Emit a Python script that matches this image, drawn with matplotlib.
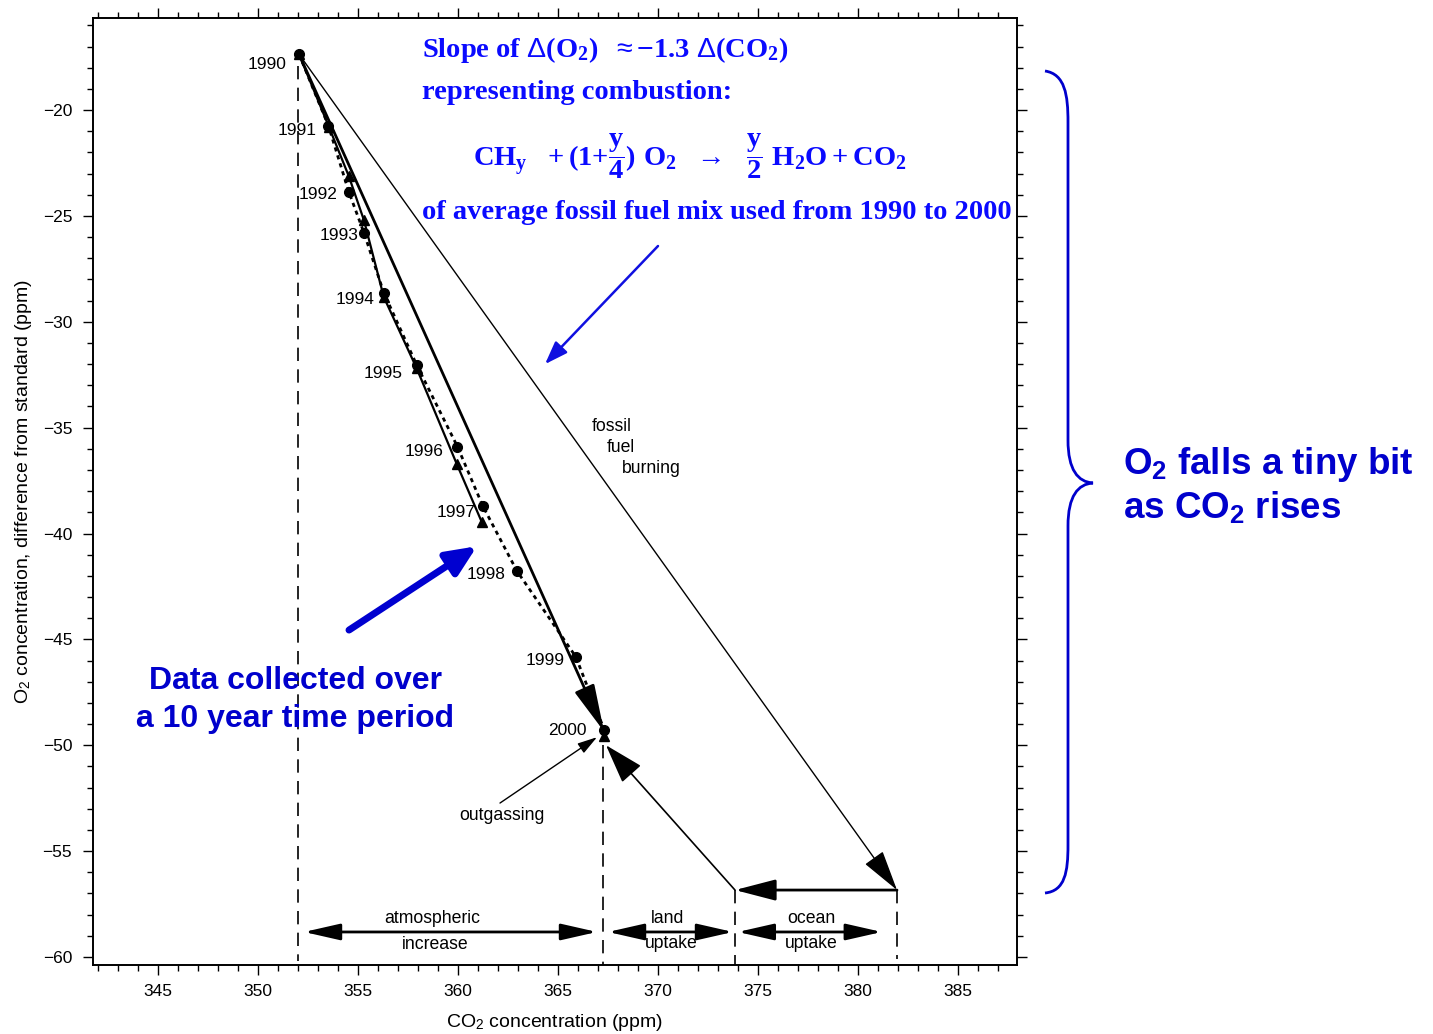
import matplotlib
matplotlib.use("Agg")
import matplotlib.pyplot as plt
import numpy as np
from matplotlib.patches import FancyArrowPatch, PathPatch
from matplotlib.path import Path
from matplotlib.ticker import MultipleLocator

plt.rcParams["font.family"] = ["Liberation Sans", "DejaVu Sans"]
plt.rcParams["mathtext.fontset"] = "custom"
plt.rcParams["mathtext.rm"] = "Liberation Sans"
plt.rcParams["mathtext.sf"] = "Liberation Sans:bold"
plt.rcParams["mathtext.bf"] = "Liberation Serif:bold"
plt.rcParams["mathtext.it"] = "Liberation Serif:bold"

# yearly means, CO2 (ppm) vs O2 (ppm from standard)
years = ["1990", "1991", "1992", "1993", "1994", "1995",
         "1996", "1997", "1998", "1999", "2000"]
co2_circ = [352.05, 353.52, 354.54, 355.30, 356.29, 357.94,
            359.97, 361.24, 362.94, 365.89, 367.32]
o2_circ = [-17.36, -20.74, -23.86, -25.80, -28.63, -32.05,
           -35.89, -38.70, -41.76, -45.82, -49.29]
co2_tri = [352.05, 353.55, 354.54, 355.30, 356.29, 357.93,
           359.94, 361.19, np.nan, np.nan, 367.32]
o2_tri = [-17.36, -20.80, -23.12, -25.21, -28.83, -32.19,
          -36.72, -39.46, np.nan, np.nan, -49.57]

# budget corners
co2_start, o2_start = 352.05, -17.36
co2_end, o2_end = 367.30, -49.35
co2_fossil, o2_fossil = 381.95, -56.84
co2_land = 373.85
o2_bar = -58.82

# label offsets (pixels)
lab_dx = [-13, -12, -11, -6, -9, -14, -14, -7, -11, -11, -18]
lab_dy = [-10, -5, -3, -3, -7, -8, -5, -6, -4, -4, 0]

fig = plt.figure(figsize=(14.33, 10.34), dpi=100)
ax = fig.add_axes([93 / 1433, 69 / 1034, 924 / 1433, 947 / 1034])
ax.set_xlim(341.75, 387.95)
ax.set_ylim(-60.38, -15.65)

ax.plot(co2_circ, o2_circ, ls=(0, (1.5, 1.5)), lw=2, color="black")
ax.plot(co2_circ, o2_circ, "o", ms=7, color="black")
ax.plot(co2_tri, o2_tri, "-^", lw=1.6, ms=7.5, color="black")

for yr, x, y, dx, dy in zip(years, co2_circ, o2_circ, lab_dx, lab_dy):
    ax.annotate(yr, (x, y), xytext=(dx, dy), textcoords="offset pixels",
                ha="right", va="center", fontsize=12.5)


def arrow(p0, p1, style="-|>", lw=1.0, hl=20, hw=7, **kw):
    a = FancyArrowPatch(p0, p1, arrowstyle=f"{style},head_length={hl},head_width={hw}",
                        mutation_scale=1, lw=lw, color="black", shrinkA=0, shrinkB=0,
                        clip_on=False, **kw)
    ax.add_patch(a)


# trend line 1990 -> 2000
arrow((co2_start, o2_start), (co2_end, o2_end), lw=2.0, hl=29, hw=6.5)
# fossil fuel burning
arrow((co2_start, o2_start), (co2_fossil, o2_fossil), lw=1.0, hl=26, hw=7)
# ocean uptake
arrow((co2_fossil, o2_fossil), (co2_land, o2_fossil), lw=2.0, hl=25, hw=6.5)
# land uptake
arrow((co2_land, o2_fossil), (367.40, -50.0), lw=1.2, hl=25, hw=8)
# outgassing
arrow((362.1, -52.73), (366.95, -49.62), lw=1.0, hl=12, hw=3.5)

# bottom double arrows
arrow((352.3, o2_bar), (366.95, o2_bar), style="<|-|>", lw=2.0, hl=22, hw=5)
arrow((367.5, o2_bar), (373.75, o2_bar), style="<|-|>", lw=2.0, hl=22, hw=5)
arrow((373.99, o2_bar), (381.19, o2_bar), style="<|-|>", lw=2.0, hl=22, hw=5)

# dashed guides
dash = dict(color="black", lw=1.2, ls=(0, (8, 5)))
ax.plot([352.0, 352.0], [-17.9, -60.2], **dash)
ax.plot([367.25, 367.25], [-50.0, -60.38], **dash)
ax.plot([co2_land, co2_land], [o2_fossil, -60.38], **dash)
ax.plot([co2_fossil, co2_fossil], [o2_fossil, -60.1], **dash)

txt = dict(fontsize=12.7, ha="center", va="center")
ax.text(358.7, -58.17, "atmospheric", **txt)
ax.text(358.85, -59.40, "increase", **txt)
ax.text(370.5, -58.17, "land", **txt)
ax.text(370.65, -59.35, "uptake", **txt)
ax.text(377.65, -58.17, "ocean", **txt)
ax.text(377.65, -59.35, "uptake", **txt)
ax.text(362.2, -53.30, "outgassing", **txt)
ax.text(367.7, -34.93, "fossil", **txt)
ax.text(368.15, -35.92, "fuel", **txt)
ax.text(369.65, -36.91, "burning", **txt)

# blue annotations
serif = dict(family="Liberation Serif", fontweight="bold", color="#0a0aff",
             fontsize=20.5, va="center")
ax.text(358.2, -17.17, r"Slope of $\Delta$(O$_\mathbf{2}$)  $\approx$$-$1.3 $\Delta$(CO$_\mathbf{2}$)",
        ha="left", **serif)
ax.text(358.2, -19.15, "representing combustion:", ha="left", **serif)
ax.text(371.6, -22.15,
        r"$\mathbf{CH_y\ \ +(1{+}\dfrac{y}{4})\ O_2\ \ \rightarrow\ \ \dfrac{y}{2}\ H_2O+CO_2}$",
        ha="center", **serif)
ax.text(358.2, -24.82, "of average fossil fuel mix used from 1990 to 2000", ha="left", **serif)

ax.add_patch(FancyArrowPatch((370.0, -26.42), (364.35, -32.0),
                             arrowstyle="-|>,head_length=14,head_width=5", mutation_scale=1,
                             lw=1.8, color="#1010e0", shrinkA=0, shrinkB=0))
ax.add_patch(FancyArrowPatch((354.55, -44.56), (360.95, -40.6),
                             arrowstyle="-|>,head_length=18,head_width=8", mutation_scale=1,
                             lw=5, color="#0000d0", shrinkA=0, shrinkB=0))

ax.text(351.85, -47.85, "Data collected over\na 10 year time period", ha="center", va="center",
        fontsize=23, fontweight="bold", color="#0000cc", linespacing=1.36)

# axes styling
for s in ax.spines.values():
    s.set_linewidth(1.4)
ax.xaxis.set_major_locator(MultipleLocator(5))
ax.xaxis.set_minor_locator(MultipleLocator(1))
ax.yaxis.set_major_locator(MultipleLocator(5))
ax.yaxis.set_minor_locator(MultipleLocator(1))
ax.tick_params(which="both", direction="out", top=True, right=True, width=1)
ax.tick_params(which="major", length=7, labelsize=12.5)
ax.tick_params(axis="x", which="major", pad=7)
ax.tick_params(axis="y", which="major", pad=8)
ax.tick_params(which="minor", length=4)
ax.set_xlabel("CO$_2$ concentration (ppm)", fontsize=14, labelpad=9)
ax.set_ylabel("O$_2$ concentration, difference from standard (ppm)", fontsize=14, labelpad=6)

# brace on the right, in figure pixels
W, H = 1433, 1034
pts = [(1045, 71), (1065, 74), (1068, 95), (1068, 122), (1068, 440),
       (1068, 470), (1078, 482), (1093, 483), (1078, 484), (1068, 496), (1068, 526),
       (1068, 845), (1068, 872), (1065, 891), (1045, 893)]
codes = [Path.MOVETO, Path.CURVE4, Path.CURVE4, Path.CURVE4, Path.LINETO,
         Path.CURVE4, Path.CURVE4, Path.CURVE4, Path.CURVE4, Path.CURVE4, Path.CURVE4,
         Path.LINETO, Path.CURVE4, Path.CURVE4, Path.CURVE4]
brace = Path([(x / W, 1 - y / H) for x, y in pts], codes)
fig.add_artist(PathPatch(brace, transform=fig.transFigure, fill=False,
                         lw=2.0, edgecolor="#0000cc"))
fig.text(1123 / W, 1 - 486 / H, "O$_\\mathsf{2}$ falls a tiny bit\nas CO$_\\mathsf{2}$ rises",
         ha="left", va="center", fontsize=26.5, fontweight="bold", color="#0000cc",
         linespacing=1.2)

fig.savefig("out.png", dpi=100)
